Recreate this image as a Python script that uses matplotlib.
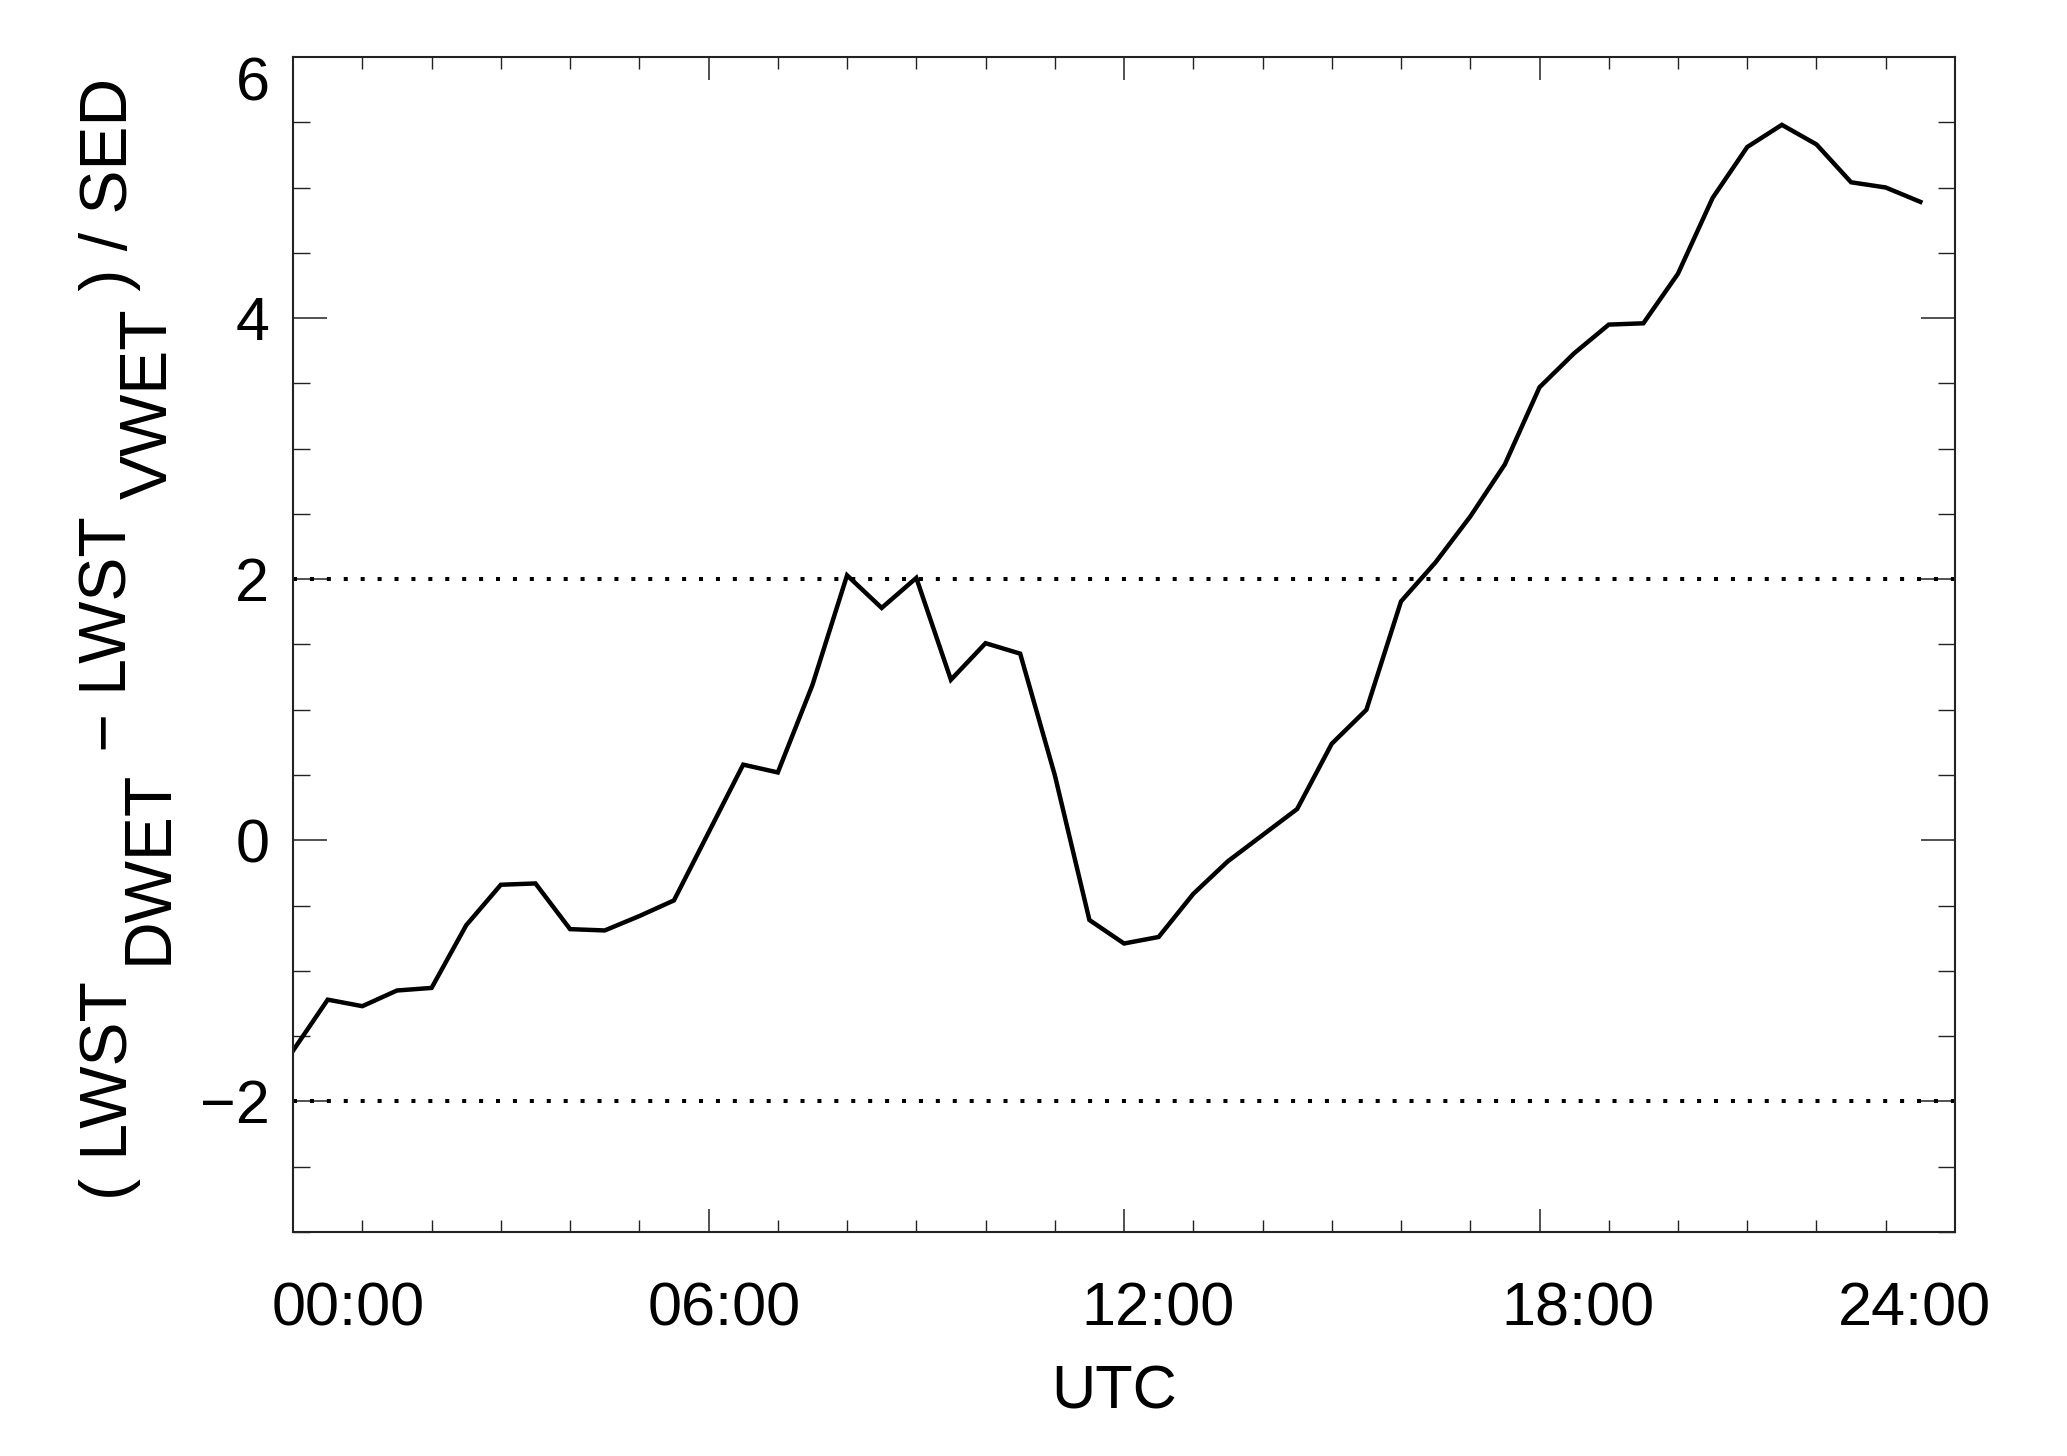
import numpy as np
import matplotlib
matplotlib.use("Agg")
import matplotlib.pyplot as plt

plt.rcParams['font.family'] = ['Liberation Sans', 'DejaVu Sans']

# half-hourly values
hours = np.arange(0, 24, 0.5)
ratio = [-1.61, -1.22, -1.27, -1.15, -1.13, -0.65, -0.34, -0.33, -0.68, -0.69, -0.58, -0.46,
         0.06, 0.58, 0.52, 1.19, 2.03, 1.78, 2.01, 1.23, 1.51, 1.43, 0.50, -0.61,
         -0.79, -0.74, -0.41, -0.16, 0.04, 0.24, 0.74, 1.00, 1.83, 2.13, 2.48, 2.88,
         3.47, 3.73, 3.95, 3.96, 4.34, 4.92, 5.31, 5.48, 5.33, 5.04, 5.00, 4.89]
thresholds = [2, -2]

xticks = [0, 6, 12, 18, 24]
xticklabels = ['00:00', '06:00', '12:00', '18:00', '24:00']
xlabel_nudge = [40, 11.5, 24.5, 28, -29]   # points, labels sit off their ticks in the original
yticks = [-2, 0, 2, 4, 6]

fig = plt.figure(figsize=(20.67, 14.56), dpi=100)
ax = fig.add_axes([0.1418, 0.1538, 0.804, 0.8071])

ax.plot(hours, ratio, color='black', lw=3.2, solid_joinstyle='miter')
for t in thresholds:
    ax.axhline(t, color='black', lw=2.9, linestyle=(0, (1, 3.2)))

ax.set_xlim(0, 24)
ax.set_ylim(-3, 6)
ax.set_xticks(xticks)
ax.set_xticks(np.arange(0, 25, 1), minor=True)
ax.set_yticks(yticks)
ax.set_yticks(np.arange(-3, 6.01, 0.5), minor=True)
ax.set_xticklabels([])

ax.tick_params(which='both', direction='in', top=True, right=True, color='#222222')
ax.tick_params(axis='x', which='major', length=16.6, width=1.1)
ax.tick_params(axis='x', which='minor', length=8.6, width=1.0)
ax.tick_params(axis='y', which='major', length=24.5, width=1.1, labelsize=44, pad=17)
ax.tick_params(axis='y', which='minor', length=12.2, width=1.0)
ax.yaxis.get_major_ticks()[-1].label1.set_va('top')
for s in ax.spines.values():
    s.set_linewidth(1.5)
    s.set_color('#222222')

for h, lab, dx in zip(xticks, xticklabels, xlabel_nudge):
    ax.annotate(lab, xy=(h, 0), xycoords=('data', 'axes fraction'),
                xytext=(dx, -56), textcoords='offset points',
                ha='center', va='center', fontsize=44)

ax.annotate('UTC', xy=(0.5, 0), xycoords='axes fraction', xytext=(-7, -116),
            textcoords='offset points', ha='center', va='center', fontsize=44)

# y label with same-size subscripts, pieces chained upward
pieces = [('( LWST ', 0), ('DWET', 29), (' \u2212 LWST ', 0), ('VWET', 29), (' ) / SED', 0)]
prev = ax.annotate(pieces[0][0], xy=(0.038, 0.1755), xycoords='figure fraction',
                   rotation=90, ha='left', va='bottom', fontsize=47.5)
shift = 0
for txt, off in pieces[1:]:
    prev = ax.annotate(txt, xy=(0, 1), xycoords=prev, xytext=(off - shift, 0),
                       textcoords='offset points', rotation=90,
                       ha='left', va='bottom', fontsize=47.5)
    shift = off

fig.savefig('out.png', dpi=100)
